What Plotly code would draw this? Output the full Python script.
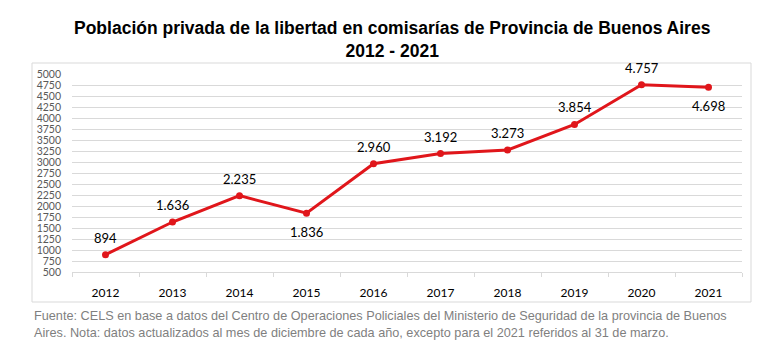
import plotly.graph_objects as go

years = ["2012", "2013", "2014", "2015", "2016", "2017", "2018", "2019", "2020", "2021"]
values = [894, 1636, 2235, 1836, 2960, 3192, 3273, 3854, 4757, 4698]
labels = ["894", "1.636", "2.235", "1.836", "2.960", "3.192", "3.273", "3.854", "4.757", "4.698"]
label_above = [True, True, True, False, True, True, True, True, True, False]
y_ticks = list(range(500, 5001, 250))

title_lines = ["Población privada de la libertad en comisarías de Provincia de Buenos Aires", "2012 - 2021"]
note_text = ("Fuente: CELS en base a datos del Centro de Operaciones Policiales del Ministerio de Seguridad de la provincia de Buenos<br>"
             "Aires. Nota: datos actualizados al mes de diciembre de cada año, excepto para el 2021 referidos al 31 de marzo.")

fig = go.Figure()
fig.add_trace(go.Scatter(
    x=years, y=values, mode="lines+markers",
    line=dict(color="#e0161b", width=3),
    marker=dict(color="#e0161b", size=7),
    cliponaxis=False, showlegend=False, hoverinfo="x+y",
))

# category index positions on the category axis
for i, (v, t, up) in enumerate(zip(values, labels, label_above)):
    fig.add_annotation(x=i, y=v, xref="x", yref="y", text=t, showarrow=False,
                       yshift=17 if up else -19,
                       font=dict(family="Lato, Open Sans, sans-serif", size=13, color="#000000"))

W, H = 775, 350
L, R, T, B = 72, 33, 74, 78
pw, ph = W - L - R, H - T - B

def px(x):
    return (x - L) / pw

def py(y):
    return (H - B - y) / ph

fig.add_shape(type="rect", xref="paper", yref="paper",
              x0=px(32), x1=px(751), y0=py(302), y1=py(63),
              line=dict(color="#d9d9d9", width=1), fillcolor="rgba(0,0,0,0)", layer="below")

fig.add_annotation(xref="paper", yref="paper", x=px(392), y=py(39), xanchor="center", yanchor="middle",
                   text="<br>".join("<b>" + s + "</b>" for s in title_lines), showarrow=False,
                   font=dict(family="Liberation Sans, Arial, sans-serif", size=17.5, color="#000000"),
                   align="center")

fig.add_annotation(xref="paper", yref="paper", x=px(32), y=py(324), xanchor="left", yanchor="middle",
                   text=note_text, showarrow=False, align="left",
                   font=dict(family="Liberation Sans, Arial, sans-serif", size=12.7, color="#7f7f7f"))

fig.update_layout(
    width=W, height=H, margin=dict(l=L, r=R, t=T, b=B),
    paper_bgcolor="white", plot_bgcolor="white",
    xaxis=dict(type="category", range=[-0.5, 9.5], showgrid=False,
               showline=True, linecolor="#d9d9d9", linewidth=1,
               ticks="outside", tickson="boundaries", ticklen=4, tickcolor="#d9d9d9",
               tickfont=dict(family="Lato, Open Sans, sans-serif", size=12, color="#000000"),
               ticklabelstandoff=10, fixedrange=True),
    yaxis=dict(range=[500, 5000], tickvals=y_ticks, ticktext=[str(v) for v in y_ticks],
               showgrid=True, gridcolor="#d9d9d9", gridwidth=1, zeroline=False,
               showline=False, ticks="",
               tickfont=dict(family="Lato, Open Sans, sans-serif", size=10.5, color="#595959"),
               ticklabelstandoff=10, fixedrange=True),
)

fig.write_html("out.html")
